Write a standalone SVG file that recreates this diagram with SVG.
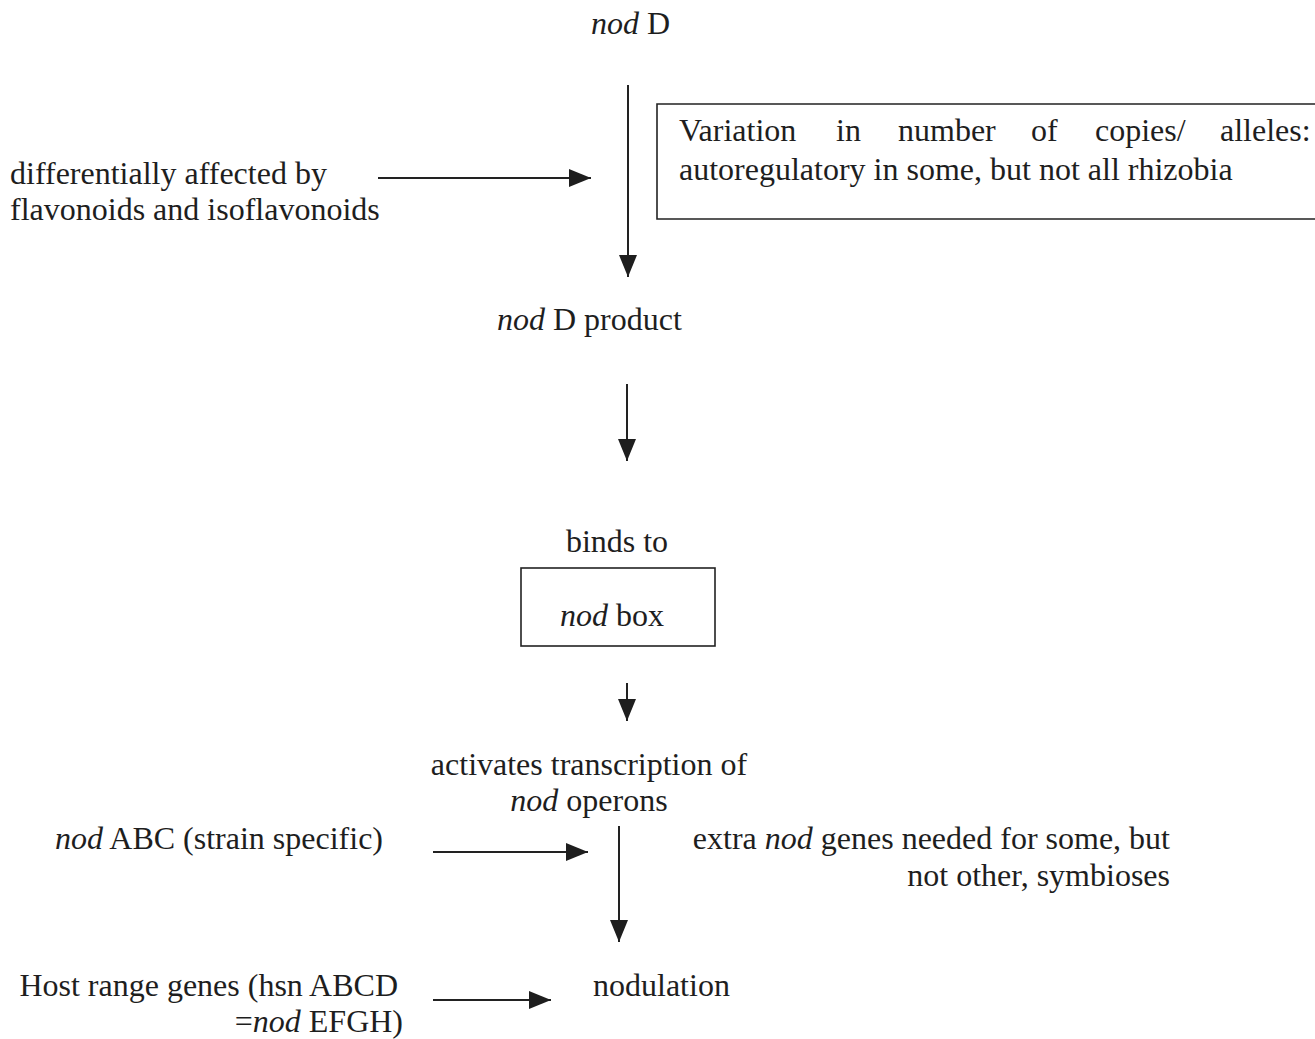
<svg xmlns="http://www.w3.org/2000/svg" width="1315" height="1039" viewBox="0 0 1315 1039">
<style>
  text { font-family: "Liberation Serif", "Times New Roman", serif; font-size: 32px; fill: #1e1e1e; }
  .i { font-style: italic; }
  .box { fill: none; stroke: #222; stroke-width: 1.6; }
  .conn line { stroke: #222; stroke-width: 2; }
</style>
<defs>
  <marker id="ah" viewBox="0 0 22 18" refX="22" refY="9" markerWidth="22" markerHeight="18" markerUnits="userSpaceOnUse" orient="auto">
    <path d="M0,0 L22,9 L0,18 Z" fill="#1e1e1e"/>
  </marker>
</defs>
<rect width="1315" height="1039" fill="#ffffff"/>

<g id="nodD">
  <text x="591" y="34"><tspan class="i">nod</tspan> D</text>
</g>

<g id="variation">
  <path class="box" d="M1316,104 H657 V219 H1316"/>
  <text y="141"><tspan x="679">Variation</tspan><tspan x="836">in</tspan><tspan x="898">number</tspan><tspan x="1031">of</tspan><tspan x="1095">copies/</tspan><tspan x="1220">alleles:</tspan></text>
  <text x="679" y="180">autoregulatory in some, but not all rhizobia</text>
</g>

<g id="flavonoids">
  <text x="10" y="184">differentially affected by</text>
  <text x="10" y="220">flavonoids and isoflavonoids</text>
</g>

<g id="nodDproduct">
  <text x="497" y="330"><tspan class="i">nod</tspan> D product</text>
</g>

<g id="bindsTo">
  <text x="617" y="552" text-anchor="middle">binds to</text>
</g>

<g id="nodBox">
  <rect class="box" x="521" y="568" width="194" height="78"/>
  <text x="612" y="626" text-anchor="middle"><tspan class="i">nod</tspan> box</text>
</g>

<g id="activates">
  <text x="589" y="775" text-anchor="middle">activates transcription of</text>
  <text x="589" y="811" text-anchor="middle"><tspan class="i">nod</tspan> operons</text>
</g>

<g id="nodABC">
  <text x="383" y="849" text-anchor="end"><tspan class="i">nod</tspan> ABC (strain specific)</text>
</g>

<g id="extraNod">
  <text x="1170" y="849" text-anchor="end">extra <tspan class="i">nod</tspan> genes needed for some, but</text>
  <text x="1170" y="886" text-anchor="end">not other, symbioses</text>
</g>

<g id="hostRange">
  <text x="398" y="996" text-anchor="end">Host range genes (hsn ABCD</text>
  <text x="403" y="1032" text-anchor="end">=<tspan class="i">nod</tspan> EFGH)</text>
</g>

<g id="nodulation">
  <text x="593" y="996">nodulation</text>
</g>

<g id="connectors" class="conn">
  <line x1="628" y1="85" x2="628" y2="277" marker-end="url(#ah)"/>
  <line x1="378" y1="178" x2="591" y2="178" marker-end="url(#ah)"/>
  <line x1="627" y1="384" x2="627" y2="461" marker-end="url(#ah)"/>
  <line x1="627" y1="683" x2="627" y2="721" marker-end="url(#ah)"/>
  <line x1="433" y1="852" x2="588" y2="852" marker-end="url(#ah)"/>
  <line x1="619" y1="826" x2="619" y2="942" marker-end="url(#ah)"/>
  <line x1="433" y1="1000" x2="551" y2="1000" marker-end="url(#ah)"/>
</g>
</svg>
